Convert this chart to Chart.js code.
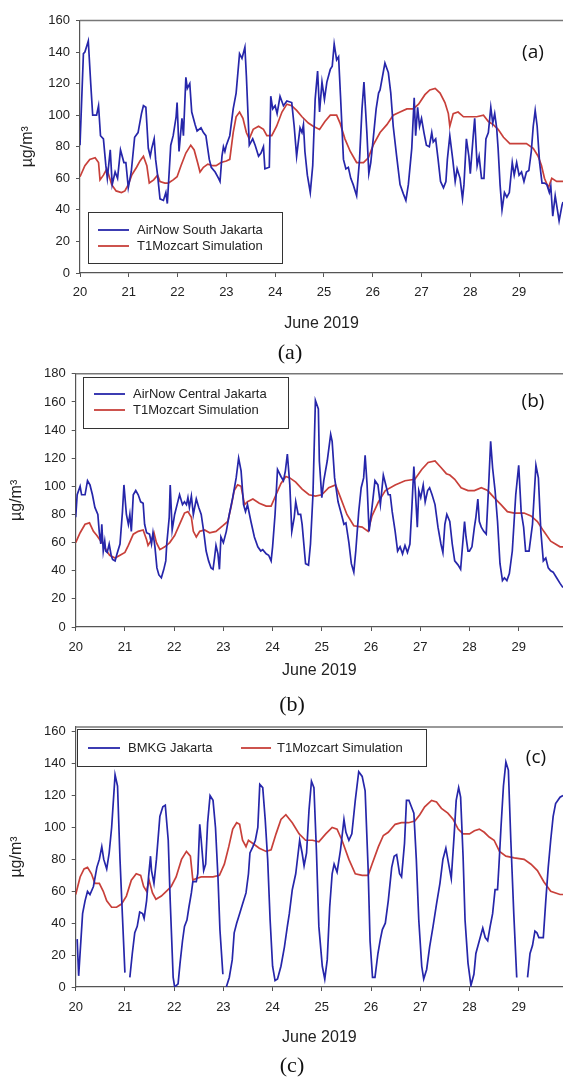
<!DOCTYPE html>
<html>
<head>
<meta charset="utf-8">
<script src="https://cdn.jsdelivr.net/npm/chart.js@4.4.1/dist/chart.umd.min.js"></script>
<style>
  body { margin: 0; background: #fff; width: 563px; height: 1077px; position: relative; overflow: hidden; }
  canvas { position: absolute; left: 0; }
  .cap { position: absolute; font-family: "Liberation Serif", "Times New Roman", serif; font-size: 22px; color: #111; transform: translate(-50%, -50%); }
  .tag { position: absolute; font-family: "Open Sans", sans-serif; font-size: 19px; color: #111; transform: translate(-50%, -50%); }
</style>
</head>
<body>
<canvas id="panelA" width="563" height="333" style="top:0px"></canvas>
<canvas id="panelB" width="563" height="320" style="top:360px"></canvas>
<canvas id="panelC" width="563" height="337" style="top:710px"></canvas>

<div class="tag" style="left:533px;top:51px">(a)</div>
<div class="tag" style="left:533px;top:400px">(b)</div>
<div class="tag" style="left:536px;top:756px">(c)</div>
<div class="cap" style="left:290px;top:352px">(a)</div>
<div class="cap" style="left:292px;top:704px">(b)</div>
<div class="cap" style="left:292px;top:1065px">(c)</div>

<script>
// tick labels
const dayTicks = [20, 21, 22, 23, 24, 25, 26, 27, 28, 29];
const yTicks160 = [0, 20, 40, 60, 80, 100, 120, 140, 160];
const yTicks180 = [0, 20, 40, 60, 80, 100, 120, 140, 160, 180];

const simLabel = "T1Mozcart Simulation";

// (a) AirNow South Jakarta
const southDays = [20.00,20.07,20.10,20.14,20.17,20.22,20.26,20.34,20.38,20.42,20.48,20.53,20.56,20.62,20.66,20.72,20.77,20.83,20.90,20.94,20.99,
  21.05,21.12,21.19,21.26,21.30,21.35,21.40,21.44,21.47,21.52,21.55,21.59,21.64,21.71,21.76,21.79,21.86,21.91,21.97,21.99,
  22.03,22.09,22.12,22.17,22.20,22.25,22.29,22.36,22.40,22.48,22.53,22.58,22.65,22.69,22.77,22.84,22.87,22.91,22.94,22.97,
  23.00,23.07,23.14,23.20,23.27,23.32,23.38,23.41,23.47,23.54,23.59,23.66,23.71,23.76,23.79,23.88,23.91,23.95,
  24.00,24.04,24.10,24.17,24.24,24.34,24.39,24.44,24.51,24.55,24.58,24.61,24.66,24.72,24.77,24.82,24.87,24.91,24.96,
  25.01,25.06,25.13,25.17,25.21,25.26,25.30,25.34,25.40,25.45,25.50,25.55,25.60,25.67,25.73,25.78,25.82,25.88,25.92,25.96,
  26.01,26.07,26.12,26.15,26.25,26.32,26.37,26.42,26.49,26.56,26.63,26.68,26.73,26.80,26.85,26.88,26.92,26.96,
  27.00,27.05,27.10,27.16,27.21,27.24,27.29,27.34,27.39,27.45,27.50,27.53,27.58,27.64,27.69,27.73,27.79,27.84,27.87,27.92,27.97,
  28.00,28.06,28.09,28.14,28.18,28.23,28.28,28.32,28.37,28.42,28.46,28.50,28.54,28.57,28.61,28.65,28.70,28.75,28.80,28.86,28.90,28.95,
  29.00,29.05,29.10,29.15,29.20,29.25,29.29,29.33,29.37,29.42,29.47,29.52,29.57,29.62,29.65,29.69,29.74,29.79,29.82,29.88,29.90];
const southVals = [81,139,140,144,147,120,100,100,106,87,85,68,60,78,56,64,60,78,70,70,54,
  64,86,89,101,106,105,79,74,79,85,72,62,47,46,51,44,81,87,99,108,
  77,98,87,124,117,120,102,94,90,92,89,87,72,67,64,60,58,74,80,77,
  81,87,104,114,139,136,143,125,81,85,81,74,76,80,66,67,112,104,
  106,101,112,106,109,108,93,74,92,89,94,77,62,51,68,110,128,102,121,
  110,121,129,131,145,135,137,112,72,66,67,60,56,49,72,104,121,89,63,70,
  85,104,114,116,133,127,114,93,74,56,50,46,56,79,111,87,105,93,
  98,89,81,80,89,83,85,72,58,54,58,72,87,72,58,66,60,47,56,85,74,
  63,87,98,68,74,60,60,85,89,105,95,101,92,79,56,40,51,48,51,70,62,70,
  62,64,58,64,65,77,93,103,93,70,57,57,56,51,55,36,49,39,33,43,45];

const simADays = [20.00,20.10,20.20,20.31,20.38,20.41,20.48,20.55,20.65,20.74,20.85,20.92,20.99,21.06,21.16,21.23,21.30,21.37,21.42,21.51,21.59,21.64,21.74,21.81,21.91,21.99,
  22.07,22.17,22.27,22.34,22.41,22.46,22.53,22.62,22.72,22.79,22.89,23.00,23.07,23.14,23.20,23.27,23.34,23.41,23.47,23.55,23.66,23.76,23.83,23.93,
  24.03,24.14,24.24,24.34,24.44,24.55,24.68,24.78,24.91,25.02,25.13,25.26,25.33,25.43,25.54,25.67,25.81,25.91,
  26.01,26.15,26.29,26.42,26.56,26.70,26.83,26.94,27.07,27.17,27.28,27.38,27.48,27.55,27.58,27.65,27.75,27.86,27.99,
  28.13,28.27,28.37,28.47,28.57,28.68,28.81,28.98,29.15,29.29,29.39,29.46,29.52,29.60,29.67,29.77,29.90];
const simAVals = [61,68,72,73,70,59,62,66,56,52,51,52,56,62,67,71,74,68,57,59,62,58,57,57,59,61,
  68,76,81,78,70,64,67,69,68,68,70,71,72,89,99,102,98,89,85,91,93,91,87,87,
  93,102,107,106,103,99,95,93,91,96,100,100,95,85,77,70,70,73,
  81,89,94,100,102,104,104,107,113,116,117,114,108,101,93,101,102,99,99,
  99,100,96,94,91,86,82,82,82,79,74,68,60,54,60,58,58];

// (b) AirNow Central Jakarta
const centralDays = [20.00,20.03,20.09,20.12,20.19,20.24,20.29,20.34,20.39,20.45,20.48,20.51,20.53,20.56,20.59,20.61,20.64,20.68,20.72,20.75,20.80,20.84,20.90,20.95,20.98,
  21.03,21.07,21.10,21.13,21.17,21.22,21.27,21.32,21.37,21.40,21.44,21.50,21.54,21.57,21.61,21.65,21.69,21.74,21.79,21.83,21.85,21.90,21.92,21.96,
  22.01,22.06,22.11,22.17,22.21,22.25,22.28,22.31,22.35,22.39,22.45,22.50,22.55,22.60,22.65,22.70,22.75,22.79,22.82,22.85,22.89,22.92,22.95,
  23.00,23.06,23.12,23.19,23.26,23.31,23.36,23.41,23.45,23.49,23.56,23.63,23.70,23.76,23.80,23.87,23.92,23.97,
  24.00,24.05,24.10,24.17,24.22,24.26,24.30,24.35,24.39,24.44,24.47,24.52,24.57,24.60,24.67,24.73,24.77,24.82,24.87,24.93,24.95,
  25.00,25.04,25.11,25.18,25.21,25.26,25.33,25.40,25.45,25.49,25.55,25.60,25.65,25.69,25.75,25.80,25.85,25.88,25.92,25.96,
  26.02,26.08,26.14,26.19,26.25,26.30,26.35,26.39,26.43,26.49,26.54,26.59,26.64,26.69,26.74,26.79,26.83,26.87,26.90,26.94,26.97,
  27.01,27.06,27.10,27.15,27.19,27.24,27.30,27.36,27.42,27.46,27.50,27.54,27.60,27.65,27.70,27.77,27.82,27.85,27.90,27.93,27.97,
  28.00,28.05,28.10,28.13,28.17,28.20,28.24,28.29,28.34,28.39,28.43,28.47,28.52,28.57,28.62,28.67,28.71,28.76,28.81,28.87,28.94,
  29.00,29.05,29.10,29.14,29.21,29.28,29.35,29.40,29.45,29.50,29.55,29.60,29.65,29.70,29.77,29.84,29.90];
const centralVals = [78,94,100,94,94,104,101,94,85,80,67,59,73,54,61,54,53,59,51,48,47,52,59,82,101,
  80,73,80,68,94,97,94,89,88,73,67,66,59,67,57,42,37,35,41,47,59,78,101,69,
  80,87,94,87,89,87,92,85,93,80,91,85,80,68,54,47,42,41,49,58,52,41,64,
  60,68,80,92,106,120,111,87,82,87,75,64,57,54,55,52,51,47,
  57,80,112,107,104,111,123,101,68,78,89,80,80,73,45,44,59,94,161,155,118,
  92,104,118,137,132,106,89,80,73,74,60,45,39,54,82,99,106,122,101,68,
  85,104,101,87,108,101,94,94,82,68,54,57,52,58,53,59,85,114,97,71,97,
  92,101,89,97,99,94,87,71,59,53,73,80,75,59,47,44,41,54,75,64,54,
  54,57,71,78,91,75,71,68,66,101,132,113,97,75,45,33,35,33,38,54,94,
  115,82,71,54,54,73,115,106,68,47,49,42,40,39,35,31,28];

const simBDays = [20.00,20.09,20.19,20.28,20.36,20.43,20.49,20.56,20.63,20.69,20.80,20.90,21.00,21.07,21.17,21.27,21.37,21.44,21.47,21.54,21.59,21.64,21.71,21.81,21.91,
  22.01,22.11,22.21,22.28,22.35,22.39,22.45,22.52,22.62,22.72,22.85,22.99,23.09,23.16,23.22,23.29,23.36,23.43,23.49,23.60,23.73,23.87,23.97,
  24.07,24.17,24.27,24.35,24.47,24.60,24.74,24.87,25.00,25.14,25.28,25.38,25.51,25.65,25.82,25.94,
  26.02,26.15,26.29,26.49,26.69,26.89,27.03,27.16,27.30,27.43,27.53,27.60,27.70,27.83,27.97,
  28.10,28.24,28.37,28.50,28.64,28.77,28.91,29.11,29.25,29.38,29.51,29.65,29.84,29.90];
const simBVals = [60,67,73,74,68,65,62,59,54,51,49,51,53,58,66,68,69,62,58,62,67,60,55,57,60,
  65,73,81,82,78,68,64,68,69,67,68,72,75,86,97,101,100,87,89,91,88,86,86,
  94,102,107,106,103,98,94,93,94,99,101,92,80,72,71,68,
  79,89,97,101,104,105,112,117,118,113,109,108,105,99,97,
  97,99,97,92,87,82,81,81,79,75,68,61,57,57];

// (c) BMKG Jakarta (null = missing data)
const bmkgDays = [20.03,20.06,20.14,20.19,20.24,20.29,20.36,20.43,20.48,20.53,20.57,20.63,20.68,20.73,20.80,20.85,20.90,20.95,21.00,21.05,
  21.10,21.15,21.20,21.25,21.30,21.36,21.39,21.44,21.48,21.52,21.54,21.59,21.64,21.71,21.77,21.82,21.88,21.92,21.98,
  22.01,22.08,22.12,22.17,22.21,22.26,22.30,22.35,22.38,22.45,22.48,22.52,22.55,22.60,22.64,22.68,22.73,22.79,22.84,22.89,22.93,22.99,23.03,
  23.06,23.12,23.18,23.22,23.27,23.33,23.39,23.46,23.51,23.54,23.60,23.65,23.70,23.74,23.80,23.85,23.90,23.95,
  24.00,24.05,24.10,24.17,24.24,24.30,24.34,24.40,24.47,24.55,24.60,24.64,24.69,24.74,24.79,24.84,24.89,24.94,
  25.01,25.06,25.11,25.16,25.21,25.25,25.31,25.38,25.45,25.49,25.55,25.61,25.68,25.75,25.82,25.88,25.94,25.98,
  26.03,26.08,26.14,26.19,26.23,26.29,26.35,26.42,26.47,26.52,26.58,26.62,26.68,26.72,26.77,26.82,26.87,26.92,26.97,
  27.03,27.07,27.13,27.19,27.26,27.33,27.40,27.46,27.52,27.56,27.63,27.69,27.73,27.78,27.82,27.87,27.91,27.97,
  28.03,28.09,28.13,28.20,28.27,28.32,28.37,28.42,28.47,28.52,28.57,28.60,28.64,28.69,28.74,28.79,28.84,28.90,28.96,29.07,
  29.18,29.23,29.28,29.33,29.37,29.41,29.50,29.55,29.60,29.65,29.70,29.75,29.84,29.90];
const bmkgVals = [30,7,46,54,60,58,63,75,80,88,80,74,84,100,133,126,80,44,9,null,
  6,21,34,38,47,46,43,54,69,82,73,65,80,107,113,114,92,54,6,
  0,2,15,29,38,42,50,59,66,66,71,102,92,73,77,103,120,117,100,69,36,8,null,
  0,6,17,34,40,46,52,59,71,84,88,92,100,127,125,105,80,42,
  13,4,5,13,25,38,46,61,71,92,84,76,84,111,129,125,86,38,
  13,5,17,50,71,77,72,86,105,97,92,96,117,135,132,123,75,29,
  6,6,21,30,36,40,54,75,82,83,71,69,90,117,117,113,109,80,42,
  13,5,11,25,38,52,65,80,87,80,68,96,117,125,119,82,42,15,
  1,8,21,29,37,31,29,38,46,61,61,77,100,126,141,136,92,46,6,null,
  6,21,26,35,34,31,31,54,75,92,107,115,119,120];

const simCDays = [20.00,20.09,20.17,20.24,20.32,20.39,20.48,20.56,20.63,20.73,20.83,20.93,21.03,21.13,21.23,21.32,21.38,21.44,21.49,21.56,21.63,21.74,21.84,21.94,
  22.04,22.15,22.25,22.33,22.38,22.45,22.55,22.65,22.79,22.92,23.02,23.11,23.19,23.27,23.33,23.39,23.46,23.51,23.60,23.73,23.87,23.97,
  24.07,24.17,24.27,24.40,24.54,24.67,24.81,24.94,25.08,25.21,25.31,25.41,25.55,25.68,25.82,25.94,
  26.02,26.15,26.25,26.35,26.49,26.62,26.76,26.89,26.99,27.09,27.23,27.33,27.43,27.56,27.67,27.77,27.87,
  28.00,28.10,28.20,28.30,28.40,28.50,28.61,28.74,28.91,29.11,29.25,29.38,29.51,29.65,29.84,29.90];
const simCVals = [58,69,74,75,71,65,65,60,54,50,50,52,57,67,71,70,63,60,67,59,55,57,60,63,
  69,80,85,82,67,68,69,69,69,70,77,88,99,103,102,92,88,92,90,87,85,86,
  96,105,108,103,96,92,92,91,96,100,99,92,80,71,70,70,
  77,88,95,97,102,103,103,104,108,113,117,116,112,109,105,99,96,
  96,98,99,97,94,92,85,82,81,80,77,73,66,60,58,58];

const BLUE = "#2626aa";
const RED = "#c8403a";
const AXIS = "#555";
const TEXT = "#222";
const SANS = '"Liberation Sans", Arial, sans-serif';

function toPoints(days, vals) {
  return days.map((d, i) => ({ x: d, y: vals[i] }));
}

// top frame line + legend box drawn inside the plot
const framePlugin = {
  id: "panelFrame",
  afterDraw(chart, args, opts) {
    const ctx = chart.ctx;
    const area = chart.chartArea;
    ctx.save();
    ctx.strokeStyle = "#777";
    ctx.lineWidth = 1.5;
    ctx.beginPath();
    ctx.moveTo(area.left, area.top);
    ctx.lineTo(area.right, area.top);
    ctx.stroke();

    const box = opts.box;
    ctx.fillStyle = "#fff";
    ctx.fillRect(box.x, box.y, box.w, box.h);
    ctx.strokeStyle = "#333";
    ctx.lineWidth = 1;
    ctx.strokeRect(box.x + 0.5, box.y + 0.5, box.w, box.h);
    ctx.font = "13px " + SANS;
    ctx.textBaseline = "middle";
    opts.rows.forEach(r => {
      const ds = chart.data.datasets[r.i];
      ctx.strokeStyle = ds.borderColor;
      ctx.lineWidth = 1.8;
      ctx.beginPath();
      ctx.moveTo(r.x1, r.y);
      ctx.lineTo(r.x2, r.y);
      ctx.stroke();
      ctx.fillStyle = TEXT;
      ctx.fillText(ds.label, r.tx, r.y + 0.5);
    });
    ctx.restore();
  }
};

function buildPanel(id, p) {
  const ctx = document.getElementById(id).getContext("2d");
  return new Chart(ctx, {
    type: "line",
    data: {
      datasets: [
        { label: p.obsLabel, data: toPoints(p.obsDays, p.obsVals), borderColor: BLUE, borderWidth: 1.7, pointRadius: 0, tension: 0 },
        { label: simLabel, data: toPoints(p.simDays, p.simVals), borderColor: RED, borderWidth: 1.7, pointRadius: 0, tension: 0 }
      ]
    },
    options: {
      responsive: false,
      animation: false,
      layout: { padding: { top: p.padTop, left: 0, right: 0, bottom: 0 } },
      plugins: {
        legend: { display: false },
        tooltip: { enabled: false },
        panelFrame: { box: p.box, rows: p.rows }
      },
      scales: {
        x: {
          type: "linear",
          min: 20,
          max: 29.9,
          afterFit: s => { s.height = p.xHeight; },
          afterBuildTicks: s => { s.ticks = dayTicks.map(v => ({ value: v })); },
          border: { color: AXIS, width: 1.2 },
          grid: { drawOnChartArea: false, tickLength: 4, color: AXIS },
          ticks: { color: TEXT, font: { family: SANS, size: 13 }, padding: p.xPad },
          title: { display: true, text: "June 2019", color: TEXT, font: { family: SANS, size: 16 }, padding: { top: 0, bottom: 0 } }
        },
        y: {
          min: 0,
          max: p.yMax,
          afterFit: s => { s.width = p.yWidth; },
          afterBuildTicks: s => { s.ticks = p.yTicks.map(v => ({ value: v })); },
          border: { color: AXIS, width: 1.2 },
          grid: { drawOnChartArea: false, tickLength: 4, color: AXIS },
          ticks: { color: TEXT, font: { family: SANS, size: 13 }, padding: 6 },
          title: { display: true, text: "µg/m³", color: TEXT, font: { family: SANS, size: 16 }, padding: { top: p.titlePad, bottom: 0 } }
        }
      }
    },
    plugins: [framePlugin]
  });
}

buildPanel("panelA", {
  obsLabel: "AirNow South Jakarta", obsDays: southDays, obsVals: southVals,
  simDays: simADays, simVals: simAVals,
  padTop: 20.5, xHeight: 60, xPad: 8, yWidth: 80, yMax: 160, yTicks: yTicks160, titlePad: 18,
  box: { x: 88, y: 212, w: 194, h: 51 },
  rows: [{ i: 0, x1: 98, x2: 129, tx: 137, y: 230 }, { i: 1, x1: 98, x2: 129, tx: 137, y: 246 }]
});

buildPanel("panelB", {
  obsLabel: "AirNow Central Jakarta", obsDays: centralDays, obsVals: centralVals,
  simDays: simBDays, simVals: simBVals,
  padTop: 11.7, xHeight: 53, xPad: 9, yWidth: 75.7, yMax: 180, yTicks: yTicks180, titlePad: 7,
  box: { x: 83, y: 17, w: 205, h: 51 },
  rows: [{ i: 0, x1: 94, x2: 125, tx: 133, y: 34 }, { i: 1, x1: 94, x2: 125, tx: 133, y: 50 }]
});

buildPanel("panelC", {
  obsLabel: "BMKG Jakarta", obsDays: bmkgDays, obsVals: bmkgVals,
  simDays: simCDays, simVals: simCVals,
  padTop: 17, xHeight: 60, xPad: 9, yWidth: 75.7, yMax: 163, yTicks: yTicks160, titlePad: 7,
  box: { x: 77, y: 19, w: 349, h: 37 },
  rows: [{ i: 0, x1: 88, x2: 120, tx: 128, y: 38 }, { i: 1, x1: 241, x2: 271, tx: 277, y: 38 }]
});
</script>
</body>
</html>
